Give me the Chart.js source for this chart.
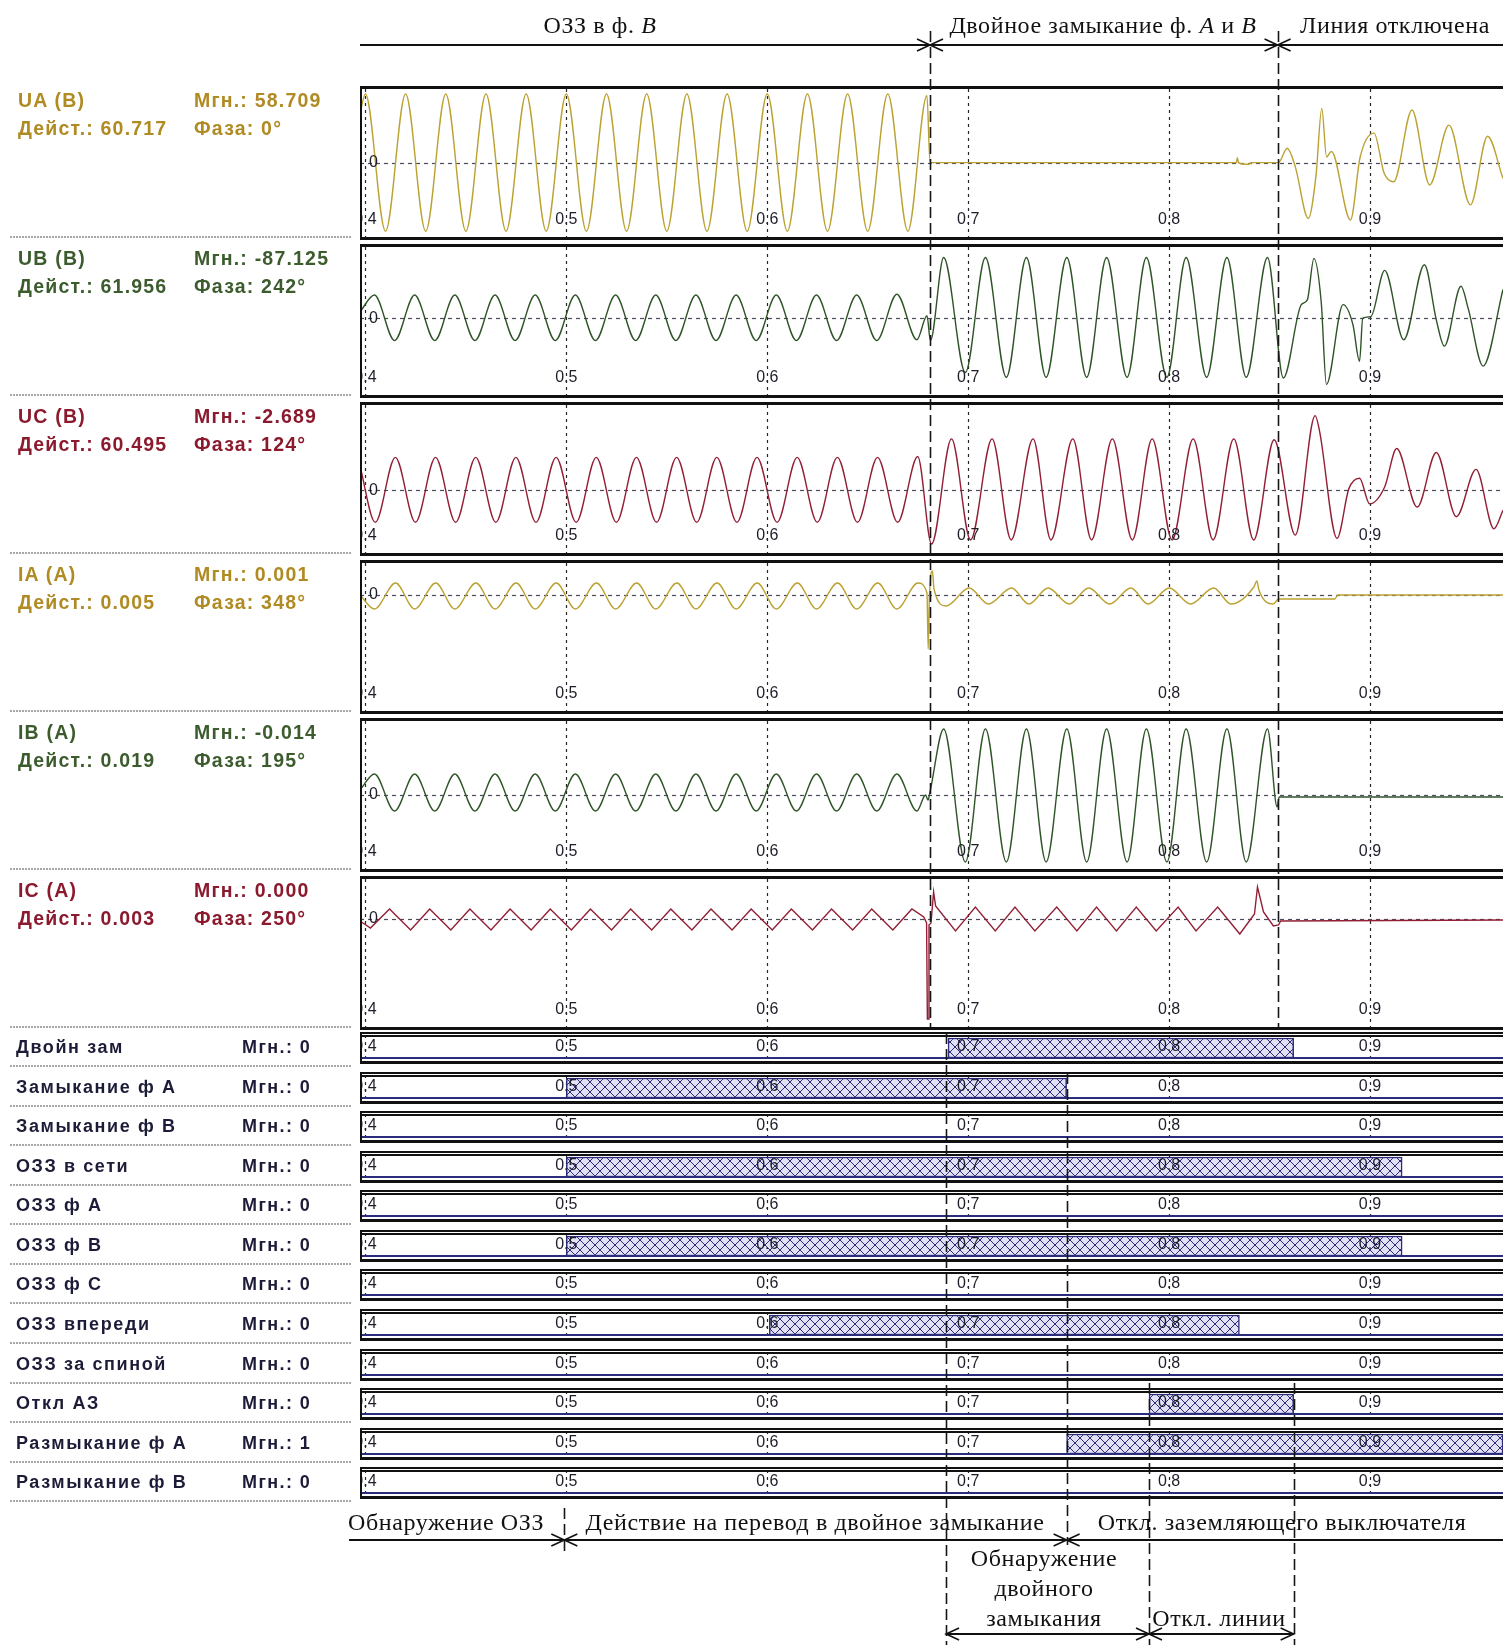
<!DOCTYPE html>
<html>
<head>
<meta charset="utf-8">
<script src="https://cdn.jsdelivr.net/npm/chart.js@4.4.0/dist/chart.umd.min.js"></script>
<style>
  body { margin: 0; background: #fff; }
  #page { position: relative; width: 1503px; height: 1645px; overflow: hidden; background: #fff; }
  canvas.ch { position: absolute; left: 360px; }
  .lbl { position: absolute; font-family: "Liberation Sans", Arial, sans-serif; font-weight: bold; white-space: nowrap; z-index: 6; }
  .ann { position: absolute; font-family: "Liberation Serif", "Times New Roman", serif; font-size: 24px; line-height: 26px;
         white-space: nowrap; transform: translateX(-50%); color: #111; z-index: 6; }
</style>
</head>
<body>
<div id="page"></div>
<script>
// --- time axis ---
const T_MIN = 0.3973, T_MAX = 0.9662;
const tickTimes = [0.4, 0.5, 0.6, 0.7, 0.8, 0.9];
const eventTimes = [0.681, 0.854];   // start of double fault, line tripped
const bottomMarks = { ozz: 0.499, dbl: 0.689, act: 0.749, trip: 0.790, end: 0.862 };

// --- analog channels ---
const channelNames = ['UA (В)', 'UB (В)', 'UC (В)', 'IA (А)', 'IB (А)', 'IC (А)'];
const channelInst = ['58.709', '-87.125', '-2.689', '0.001', '-0.014', '0.000'];
const channelRms = ['60.717', '61.956', '60.495', '0.005', '0.019', '0.003'];
const channelPhase = ['0°', '242°', '124°', '348°', '195°', '250°'];
const channelRange = [[-97, 96], [-100, 93], [-82, 110], [-119, 35], [-77, 77], [-111, 43]];

// voltages in V, currents in mA, [time s, value]
const UA = [[0.3973,62],[0.40,86],[0.41,-86],[0.42,86],[0.43,-86],[0.44,86],[0.45,-86],[0.46,86],[0.47,-86],[0.48,86],[0.49,-86],
  [0.50,86],[0.51,-86],[0.52,86],[0.53,-86],[0.54,86],[0.55,-86],[0.56,86],[0.57,-86],[0.58,86],[0.59,-86],
  [0.60,86],[0.61,-86],[0.62,86],[0.63,-86],[0.64,86],[0.65,-86],[0.66,86],[0.67,-86],[0.6795,84],[0.681,0],
  [0.8335,0],[0.834,6],[0.8345,0],[0.8375,-2],[0.8395,-2],[0.841,0],[0.8544,0],
  [0.8588,18],[0.8628,-5],[0.8693,-70],[0.8731,-17],[0.876,68],[0.8784,7],[0.8808,14],[0.8903,-72],[0.8951,7],[0.902,37],
  [0.907,-13],[0.9118,-24],[0.9209,66],[0.9297,-28],[0.9393,47],[0.95,-53],[0.9585,33],[0.9662,-20]];

const UB = [[0.3973,8],[0.4045,29],[0.4145,-28],[0.4245,29],[0.4345,-28],[0.4445,29],[0.4545,-28],[0.4645,29],[0.4745,-28],[0.4845,29],[0.4945,-28],
  [0.5045,29],[0.5145,-28],[0.5245,29],[0.5345,-28],[0.5445,29],[0.5545,-28],[0.5645,29],[0.5745,-28],[0.5845,29],[0.5945,-28],
  [0.6045,29],[0.6145,-28],[0.6245,29],[0.6345,-28],[0.6445,29],[0.6545,-28],[0.6645,30],[0.6745,-27],
  [0.6795,3],[0.6812,-28],[0.6878,76],[0.6986,-68],[0.7086,76],[0.719,-74],[0.729,76],[0.7388,-74],[0.7491,76],[0.759,-74],
  [0.7689,76],[0.7791,-74],[0.7887,76],[0.7989,-74],[0.8085,76],[0.8187,-74],[0.8288,76],[0.8384,-74],[0.849,76],
  [0.8569,-75],[0.8658,17],[0.8688,23],[0.8721,75],[0.8757,21],[0.8783,-83],[0.8866,17],[0.8915,-8],[0.8948,-54],[0.8964,0],
  [0.9004,2],[0.9073,60],[0.9168,-27],[0.9271,67],[0.933,-2],[0.937,-35],[0.9453,40],[0.9489,12],[0.9563,-60],[0.9662,36]];

const UC = [[0.3973,30],[0.4049,-40],[0.4149,41],[0.4249,-40],[0.4349,41],[0.4449,-40],[0.4549,41],[0.4649,-40],[0.4749,41],[0.4849,-40],[0.4949,41],
  [0.5049,-40],[0.5149,41],[0.5249,-40],[0.5349,41],[0.5449,-40],[0.5549,41],[0.5649,-40],[0.5749,41],[0.5849,-40],[0.5949,41],
  [0.6049,-40],[0.6149,41],[0.6249,-40],[0.6349,41],[0.6449,-40],[0.6549,41],[0.6649,-40],[0.6749,42],
  [0.6818,-67],[0.6917,64],[0.7012,-62],[0.7119,64],[0.7214,-62],[0.7323,64],[0.7412,-62],[0.7521,64],[0.7614,-62],
  [0.7718,64],[0.7817,-62],[0.7916,64],[0.8015,-62],[0.812,64],[0.8219,-62],[0.8322,64],[0.8421,-62],[0.8523,63],
  [0.8628,-56],[0.8727,93],[0.8748,75],[0.8836,-60],[0.8895,2],[0.8948,15],[0.8998,-17],[0.9073,4],[0.9133,52],
  [0.9235,-21],[0.933,47],[0.943,-33],[0.9528,26],[0.9617,-48],[0.9662,-25]];

const IA = [[0.3973,0],[0.4045,-14],[0.415,12],[0.4245,-14],[0.435,12],[0.4445,-14],[0.455,12],[0.4645,-14],[0.475,12],[0.4845,-14],[0.495,12],
  [0.5045,-14],[0.515,12],[0.5245,-14],[0.535,12],[0.5445,-14],[0.555,12],[0.5645,-14],[0.575,12],[0.5845,-14],[0.595,12],
  [0.6045,-14],[0.615,12],[0.6245,-14],[0.635,12],[0.6445,-14],[0.655,12],[0.6645,-14],[0.675,12],
  [0.6795,2],[0.6801,-54],[0.6807,-2],[0.6822,24],[0.683,6],[0.689,-11],[0.7005,7],[0.7101,-9],[0.7216,7],[0.7302,-9],
  [0.7398,7],[0.7503,-9],[0.76,7],[0.7704,-9],[0.781,7],[0.7895,-9],[0.8001,7],[0.8107,-9],[0.8222,7],[0.8308,-9],
  [0.8422,8],[0.8437,14],[0.8447,5],[0.8518,-9],[0.8545,-4],[0.8825,-4],[0.884,0],[0.9662,0]];

const IB = [[0.3973,5],[0.4045,21],[0.4145,-16],[0.4245,21],[0.4345,-16],[0.4445,21],[0.4545,-16],[0.4645,21],[0.4745,-16],[0.4845,21],[0.4945,-16],
  [0.5045,21],[0.5145,-16],[0.5245,21],[0.5345,-16],[0.5445,21],[0.5545,-16],[0.5645,21],[0.5745,-16],[0.5845,21],[0.5945,-16],
  [0.6045,21],[0.6145,-16],[0.6245,21],[0.6345,-16],[0.6445,21],[0.6545,-16],[0.6645,21],[0.6745,-16],
  [0.6788,0],[0.68,-5],[0.681,3],[0.6878,66],[0.6986,-67],[0.7086,66],[0.719,-67],[0.729,66],[0.7388,-67],[0.7491,66],
  [0.759,-67],[0.7689,66],[0.7791,-67],[0.7887,66],[0.7989,-67],[0.8085,66],[0.8187,-67],[0.8288,66],[0.8384,-67],[0.849,66],
  [0.8538,-12],[0.8548,-2],[0.9662,-2]];

const IC = [[0.3973,-2],[0.4025,-9],[0.412,10],[0.4225,-11],[0.432,10],[0.4425,-11],[0.452,10],[0.4625,-11],[0.472,10],[0.4825,-11],
  [0.492,10],[0.5025,-11],[0.512,10],[0.5225,-11],[0.532,10],[0.5425,-11],[0.552,10],[0.5625,-11],[0.572,10],[0.5825,-11],
  [0.592,10],[0.6025,-11],[0.612,10],[0.6225,-11],[0.632,10],[0.6425,-11],[0.652,10],[0.6625,-11],[0.672,10],
  [0.6779,2],[0.6793,-4],[0.6797,-100],[0.6801,-100],[0.6805,-6],[0.6815,-4],[0.6828,27],[0.6838,13],[0.6937,-12],
  [0.7036,12],[0.7135,-12],[0.7233,12],[0.7332,-12],[0.7441,12],[0.7541,-12],[0.7639,12],[0.7738,-12],[0.7837,12],
  [0.7936,-12],[0.8045,12],[0.8134,-12],[0.8242,12],[0.8352,-15],[0.8425,5],[0.844,32],[0.847,7],[0.8519,-7],
  [0.8545,-6],[0.8555,-2],[0.9662,-1]];

const channelData = [UA, UB, UC, IA, IB, IC];
const lineColors = ['#bba232', '#2f5428', '#921f35', '#bba232', '#2f5428', '#921f35'];
const textColors = ['#b08a22', '#3c5c2e', '#8b1a2e', '#b08a22', '#3c5c2e', '#8b1a2e'];
const smooth = [true, true, true, true, true, false];

// --- discrete signals ---
const digitalNames = ['Двойн зам', 'Замыкание ф А', 'Замыкание ф В', 'ОЗЗ в сети', 'ОЗЗ ф А', 'ОЗЗ ф В',
  'ОЗЗ ф С', 'ОЗЗ впереди', 'ОЗЗ за спиной', 'Откл АЗ', 'Размыкание ф А', 'Размыкание ф В'];
const digitalInst = [0, 0, 0, 0, 0, 0, 0, 0, 0, 0, 1, 0];
const digitalOn = [[0.690, 0.862], [0.500, 0.749], null, [0.500, 0.916], null, [0.500, 0.916],
  null, [0.601, 0.835], null, [0.790, 0.862], [0.749, 0.9662], null];

// --- layout ---
const PANEL_LEFT = 360, PANEL_W = 1143;
const analogTop = 86, analogPitch = 158, analogH = 154;
const digTop = 1032, digPitch = 39.57, digH = 32;

const page = document.getElementById('page');
const charts = [];

function addCanvas(top, h) {
  const c = document.createElement('canvas');
  c.className = 'ch';
  c.width = PANEL_W; c.height = h;
  c.style.top = top + 'px';
  c.style.width = PANEL_W + 'px'; c.style.height = h + 'px';
  page.appendChild(c);
  return c;
}

function addText(html, left, top, css) {
  const d = document.createElement('div');
  d.className = css.cls;
  d.innerHTML = html;
  d.style.left = left + 'px';
  d.style.top = top + 'px';
  if (css.size) d.style.fontSize = css.size + 'px';
  if (css.color) d.style.color = css.color;
  if (css.ls) d.style.letterSpacing = css.ls + 'px';
  page.appendChild(d);
}

// frame, grid and tick labels of a panel
const frame = {
  id: 'frame',
  beforeDatasetsDraw(chart, _a, o) {
    const { ctx, chartArea: a, scales } = chart;
    ctx.save();
    ctx.strokeStyle = '#262626';
    ctx.lineWidth = 1.2;
    ctx.setLineDash([3, 4]);
    for (const t of tickTimes) {
      const px = Math.round(scales.x.getPixelForValue(t)) + 0.5;
      ctx.beginPath(); ctx.moveTo(px, a.top + 3); ctx.lineTo(px, a.bottom - 3); ctx.stroke();
    }
    if (!o.digital) {
      const py = Math.round(scales.y.getPixelForValue(0)) + 0.5;
      ctx.strokeStyle = '#4a4a5a';
      ctx.setLineDash([4, 4]);
      ctx.beginPath(); ctx.moveTo(a.left, py); ctx.lineTo(a.right, py); ctx.stroke();
    }
    ctx.restore();
  },
  afterDatasetsDraw(chart, _a, o) {
    const { ctx, chartArea: a, scales } = chart;
    const w = a.right - a.left, h = a.bottom - a.top;
    ctx.save();
    ctx.beginPath(); ctx.rect(a.left, a.top, w, h); ctx.clip();
    ctx.fillStyle = '#1e1e2a';
    ctx.font = '16px "Liberation Sans", Arial, sans-serif';
    ctx.textAlign = 'center'; ctx.textBaseline = 'middle';
    for (const t of tickTimes) ctx.fillText(t.toFixed(1), scales.x.getPixelForValue(t), a.top + o.labelY);
    if (!o.digital) {
      ctx.textAlign = 'left';
      ctx.fillText('0', a.left + 9, scales.y.getPixelForValue(0));
    }
    ctx.fillStyle = '#111';
    if (o.digital) {
      ctx.fillRect(a.left, a.top, w, 2);
      ctx.fillRect(a.left, a.top + 3, w, 2);
      ctx.fillStyle = '#2c2c7c';
      ctx.fillRect(a.left, a.top + 25, w, 2);
      ctx.fillStyle = '#111';
      ctx.fillRect(a.left, a.bottom - 3, w, 3);
    } else {
      ctx.fillRect(a.left, a.top, w, 3);
      ctx.fillRect(a.left, a.bottom - 3, w, 3);
    }
    ctx.fillRect(a.left, a.top, 2, h);
    ctx.restore();
  }
};

const baseOptions = {
  responsive: false, animation: false, events: [],
  layout: { padding: 0 },
};

// analog panels
channelNames.forEach((name, i) => {
  const top = analogTop + i * analogPitch;
  const cv = addCanvas(top, analogH);
  charts.push(new Chart(cv, {
    type: 'line',
    data: {
      datasets: [{
        data: channelData[i],
        borderColor: lineColors[i],
        borderWidth: 1.4,
        pointRadius: 0,
        fill: false,
        tension: 0,
        cubicInterpolationMode: smooth[i] ? 'monotone' : 'default'
      }]
    },
    options: {
      ...baseOptions,
      plugins: { legend: { display: false }, tooltip: { enabled: false }, frame: { labelY: analogH - 20 } },
      scales: {
        x: { type: 'linear', min: T_MIN, max: T_MAX, display: false },
        y: { type: 'linear', min: channelRange[i][0], max: channelRange[i][1], display: false }
      }
    },
    plugins: [frame]
  }));

  const c1 = top + 12.6, c2 = top + 41;
  const col = textColors[i];
  addText(name, 18, c1 - 10, { cls: 'lbl', size: 19.5, color: col, ls: 1.2 });
  addText('Мгн.: ' + channelInst[i], 194, c1 - 10, { cls: 'lbl', size: 19.5, color: col, ls: 1.2 });
  addText('Дейст.: ' + channelRms[i], 18, c2 - 10, { cls: 'lbl', size: 19.5, color: col, ls: 1.2 });
  addText('Фаза: ' + channelPhase[i], 194, c2 - 10, { cls: 'lbl', size: 19.5, color: col, ls: 1.2 });
});

// cross hatch for discrete signals
function makeHatch() {
  const p = document.createElement('canvas');
  p.width = 10; p.height = 10;
  const g = p.getContext('2d');
  g.fillStyle = '#e2e0f4'; g.fillRect(0, 0, 10, 10);
  g.strokeStyle = '#2b2b7a'; g.lineWidth = 1;
  g.beginPath(); g.moveTo(0, 0); g.lineTo(10, 10); g.moveTo(10, 0); g.lineTo(0, 10); g.stroke();
  return g.createPattern(p, 'repeat');
}
const hatch = makeHatch();

digitalNames.forEach((name, i) => {
  const top = Math.round(digTop + i * digPitch);
  const cv = addCanvas(top, digH);
  charts.push(new Chart(cv, {
    type: 'bar',
    data: {
      labels: [name],
      datasets: [{
        data: [digitalOn[i]],
        backgroundColor: hatch,
        borderColor: '#2b2b7a',
        borderWidth: 1.5,
        borderSkipped: false,
        barThickness: 20
      }]
    },
    options: {
      ...baseOptions,
      indexAxis: 'y',
      plugins: { legend: { display: false }, tooltip: { enabled: false }, frame: { digital: true, labelY: 15 } },
      scales: {
        x: { type: 'linear', min: T_MIN, max: T_MAX, display: false },
        y: { display: false }
      }
    },
    plugins: [frame]
  }));
  const c = top + 15;
  addText(name, 16, c - 10, { cls: 'lbl', size: 18, color: '#1c1c38', ls: 1.6 });
  addText('Мгн.: ' + digitalInst[i], 242, c - 10, { cls: 'lbl', size: 18, color: '#1c1c38', ls: 1.4 });
});

// --- annotation layer ---
const ov = document.createElement('canvas');
ov.width = 1503; ov.height = 1645;
ov.style.cssText = 'position:absolute;left:0;top:0;z-index:5;';
page.appendChild(ov);
const g = ov.getContext('2d');
const xs = charts[0].scales.x;
const px = t => PANEL_LEFT + xs.getPixelForValue(t);

function hLine(x1, x2, y) {
  g.save(); g.strokeStyle = '#111'; g.lineWidth = 2; g.setLineDash([]);
  g.beginPath(); g.moveTo(x1, y); g.lineTo(x2, y); g.stroke(); g.restore();
}
function vDash(x, y1, y2) {
  g.save(); g.strokeStyle = '#161616'; g.lineWidth = 1.6; g.setLineDash([11, 5]);
  g.beginPath(); g.moveTo(Math.round(x) + 0.5, y1); g.lineTo(Math.round(x) + 0.5, y2); g.stroke(); g.restore();
}
function arrow(x, y, dir) {
  g.save(); g.strokeStyle = '#111'; g.lineWidth = 1.6;
  g.beginPath(); g.moveTo(x - dir * 13, y - 6); g.lineTo(x, y); g.lineTo(x - dir * 13, y + 6); g.stroke(); g.restore();
}
function sep(y) {
  g.save(); g.strokeStyle = '#a8a8a8'; g.lineWidth = 2; g.setLineDash([2, 1]);
  g.beginPath(); g.moveTo(10, y); g.lineTo(352, y); g.stroke(); g.restore();
}

// top: stages of the event
hLine(PANEL_LEFT, 1503, 45);
eventTimes.forEach(t => { vDash(px(t), 31, 1030); arrow(px(t), 45, 1); arrow(px(t), 45, -1); });

// left separators
channelNames.forEach((_, i) => sep(analogTop + i * analogPitch + 151));
digitalNames.forEach((_, i) => sep(Math.round(digTop + i * digPitch) + 34));

// bottom: protection stages
hLine(349, 1503, 1540);
[bottomMarks.ozz, bottomMarks.act].forEach(t => { arrow(px(t), 1540, 1); arrow(px(t), 1540, -1); });
vDash(px(bottomMarks.ozz), 1508, 1552);
vDash(px(bottomMarks.dbl), 1033, 1645);
vDash(px(bottomMarks.act), 1073, 1545);
vDash(px(bottomMarks.trip), 1383, 1645);
vDash(px(bottomMarks.end), 1383, 1645);
hLine(px(bottomMarks.dbl), px(bottomMarks.end), 1634);
arrow(px(bottomMarks.dbl), 1634, -1);
arrow(px(bottomMarks.trip), 1634, 1);
arrow(px(bottomMarks.trip), 1634, -1);
arrow(px(bottomMarks.end), 1634, 1);

// captions
const A = { cls: 'ann', ls: 0.6 };
addText('ОЗЗ в ф. <i>B</i>', 600, 12, A);
addText('Двойное замыкание ф. <i>A</i> и <i>B</i>', 1103, 12, A);
addText('Линия отключена', 1395, 12, A);
addText('Обнаружение ОЗЗ', 446, 1509, A);
addText('Действие на перевод в двойное замыкание', 815, 1509, A);
addText('Откл. заземляющего выключателя', 1282, 1509, A);
addText('Обнаружение', 1044, 1545, A);
addText('двойного', 1044, 1575, A);
addText('замыкания', 1044, 1605, A);
addText('Откл. линии', 1219, 1605, A);
</script>
</body>
</html>
